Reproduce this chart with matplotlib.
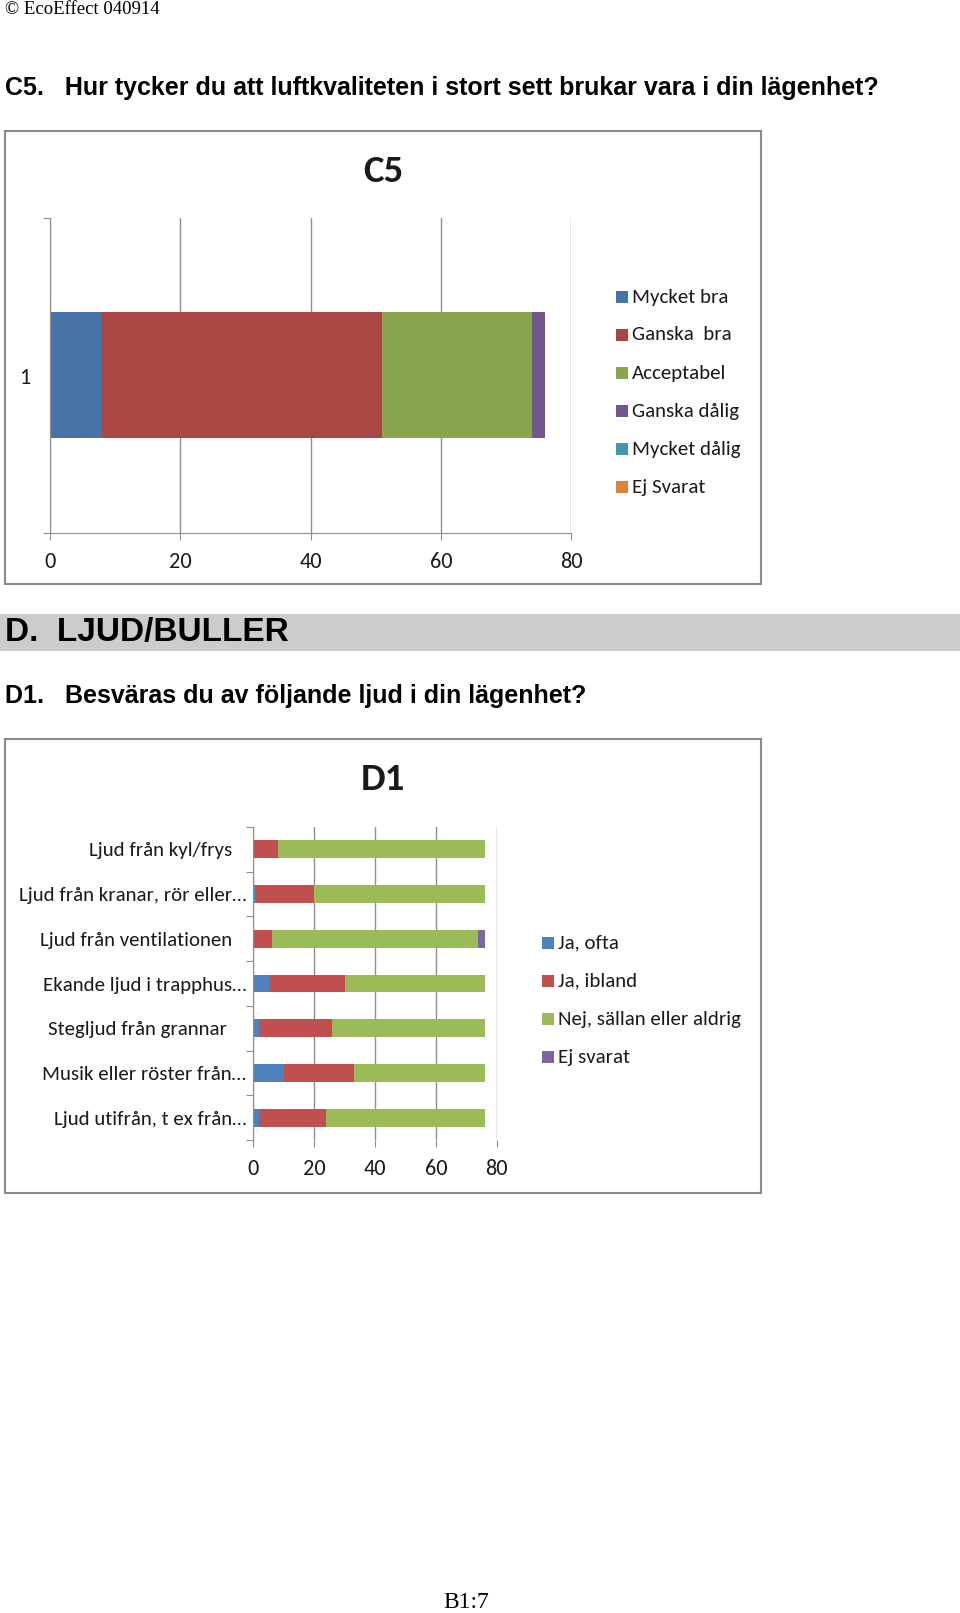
import matplotlib
matplotlib.use("Agg")
import matplotlib.pyplot as plt
from matplotlib import font_manager
from matplotlib.patches import Rectangle

# page texts
copyright_text = "© EcoEffect 040914"
c5_heading = "C5.   Hur tycker du att luftkvaliteten i stort sett brukar vara i din lägenhet?"
section_heading = "D.  LJUD/BULLER"
d1_heading = "D1.   Besväras du av följande ljud i din lägenhet?"
footer_text = "B1:7"

# C5 chart data (one stacked bar)
c5_categories = ["1"]
c5_series = ["Mycket bra", "Ganska  bra", "Acceptabel", "Ganska dålig", "Mycket dålig", "Ej Svarat"]
c5_values = [8, 43, 23, 2, 0, 0]
c5_colors = ["#4672A8", "#AA4643", "#89A54E", "#71588F", "#4198AF", "#DB843D"]

# D1 chart data (top to bottom); trailing spaces as in the original labels
d1_categories = ["Ljud från kyl/frys   ", "Ljud från kranar, rör eller…", "Ljud från ventilationen   ",
                 "Ekande ljud i trapphus…", "Stegljud från grannar    ", "Musik eller röster från…",
                 "Ljud utifrån, t ex från…"]
d1_series = ["Ja, ofta", "Ja, ibland", "Nej, sällan eller aldrig", "Ej svarat"]
d1_ja_ofta = [0, 1, 0, 5, 2, 10, 2]
d1_ja_ibland = [8, 19, 6, 25, 24, 23, 22]
d1_nej = [68, 56, 68, 46, 50, 43, 52]
d1_ej_svarat = [0, 0, 2, 0, 0, 0, 0]
d1_colors = ["#4F81BD", "#C0504D", "#9BBB59", "#8064A2"]

x_ticks = [0, 20, 40, 60, 80]

# fonts
names = {f.name for f in font_manager.fontManager.ttflist}
head_font = "Liberation Sans Narrow" if "Liberation Sans Narrow" in names else "Liberation Sans"
chart_font = "Carlito" if "Carlito" in names else "Lato"
serif_font = "Liberation Serif"

W, H = 960, 1613
GRID = "#8f8f8f"
TXT = "#1a1a1a"


def fx(x):
    return x / W


def fy(y):
    return 1 - y / H


fig = plt.figure(figsize=(W / 100, H / 100), dpi=100)

# page texts
fig.text(fx(5), fy(9), copyright_text, family=serif_font, fontsize=13.5, va="center")
fig.text(fx(5), fy(88), c5_heading, family=head_font, weight="bold", fontsize=18, va="center")
fig.patches.append(Rectangle((0, fy(651)), 1, (651 - 614) / H, transform=fig.transFigure,
                             facecolor="#cccccc", edgecolor="none", zorder=-2))
fig.text(fx(5), fy(633), section_heading, family=head_font, weight="bold", fontsize=24, va="center")
fig.text(fx(5), fy(696), d1_heading, family=head_font, weight="bold", fontsize=18, va="center")
fig.text(fx(466), fy(1602), footer_text, family=serif_font, fontsize=17, ha="center", va="center")

# chart frames
for top, bottom in [(131, 584), (739, 1193)]:
    fig.patches.append(Rectangle((fx(5), fy(bottom)), (761 - 5) / W, (bottom - top) / H,
                                 transform=fig.transFigure, facecolor="none",
                                 edgecolor="#8a8a8a", lw=1.5, zorder=-1))


def style_axes(ax, show_bottom):
    ax.patch.set_visible(False)
    ax.set_xlim(0, 80)
    ax.set_xticks(x_ticks)
    ax.xaxis.grid(True, color=GRID, lw=1)
    ax.set_axisbelow(True)
    for s in ["top", "right"]:
        ax.spines[s].set_visible(False)
    ax.spines["bottom"].set_visible(show_bottom)
    ax.spines["left"].set_color(GRID)
    ax.spines["bottom"].set_color(GRID)
    ax.tick_params(axis="x", length=5, color=GRID, pad=9, labelsize=16, labelcolor=TXT)
    ax.tick_params(axis="y", which="major", length=5, color=GRID, labelleft=False)
    ax.tick_params(axis="y", which="minor", length=0)
    for lab in ax.get_xticklabels():
        lab.set_family(chart_font)


# C5 chart
ax1 = fig.add_axes([fx(49.7), fy(533), (571.4 - 49.7) / W, (533 - 218) / H])
left = 0
for name, val, col in zip(c5_series, c5_values, c5_colors):
    ax1.barh([1], [val], left=left, height=0.4, color=col, label=name)
    left += val
ax1.set_ylim(0.5, 1.5)
ax1.set_yticks([0.5, 1.5])
ax1.set_yticks([1], labels=c5_categories, minor=True)
style_axes(ax1, True)
ax1.tick_params(axis="y", which="minor", pad=14, labelsize=16, labelcolor=TXT)
for lab in ax1.get_yticklabels(minor=True):
    lab.set_family(chart_font)
fig.text(fx(383), fy(172), "C5", family=chart_font, weight="bold", fontsize=28,
         ha="center", va="center", color=TXT)

# C5 legend
for i, (name, col) in enumerate(zip(c5_series, c5_colors)):
    yc = 297 + i * 38
    fig.patches.append(Rectangle((fx(616), fy(yc + 6)), 12 / W, 12 / H,
                                 transform=fig.transFigure, facecolor=col, edgecolor="none"))
    fig.text(fx(632), fy(yc), name, family=chart_font, fontsize=15, va="center", color=TXT)

# D1 chart
ax2 = fig.add_axes([fx(253.3), fy(1140), (496.7 - 253.3) / W, (1140 - 827) / H])
ypos = list(range(len(d1_categories)))
left = [0] * len(d1_categories)
for name, vals, col in zip(d1_series, [d1_ja_ofta, d1_ja_ibland, d1_nej, d1_ej_svarat], d1_colors):
    ax2.barh(ypos, vals, left=left, height=0.4, color=col, label=name)
    left = [a + b for a, b in zip(left, vals)]
ax2.set_ylim(len(d1_categories) - 0.5, -0.5)
ax2.set_yticks([p - 0.5 for p in range(len(d1_categories) + 1)])
ax2.set_yticks(ypos, labels=d1_categories, minor=True)
style_axes(ax2, False)
ax2.tick_params(axis="y", which="minor", pad=5, labelsize=15, labelcolor=TXT)
for lab in ax2.get_yticklabels(minor=True):
    lab.set_family(chart_font)
fig.text(fx(383), fy(779), "D1", family=chart_font, weight="bold", fontsize=28,
         ha="center", va="center", color=TXT)

# D1 legend
for i, (name, col) in enumerate(zip(d1_series, d1_colors)):
    yc = 943 + i * 38
    fig.patches.append(Rectangle((fx(542), fy(yc + 6)), 12 / W, 12 / H,
                                 transform=fig.transFigure, facecolor=col, edgecolor="none"))
    fig.text(fx(558), fy(yc), name, family=chart_font, fontsize=15, va="center", color=TXT)

fig.savefig("out.png", dpi=100)
